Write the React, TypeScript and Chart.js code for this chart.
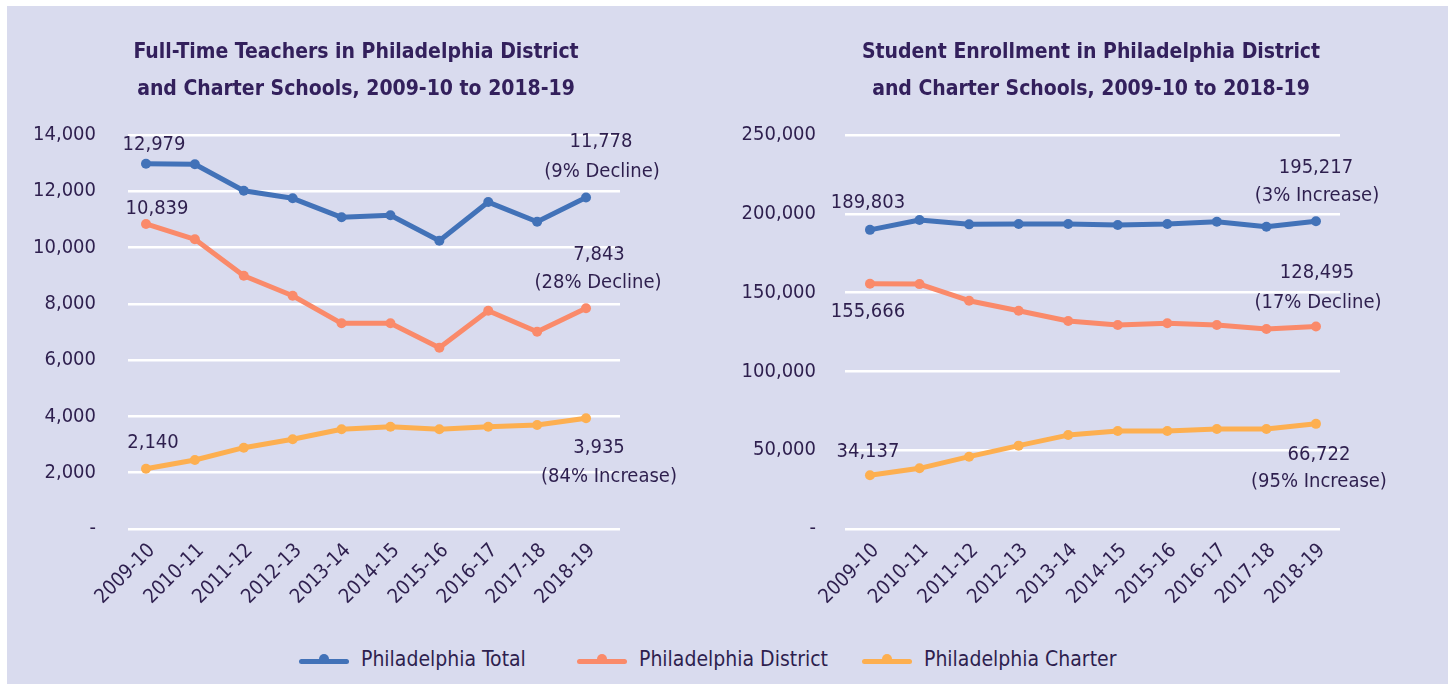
import React, { useEffect, useRef } from 'react';
import { Chart, registerables } from 'chart.js';

Chart.register(...registerables);

// ---------- data ----------
const CATEGORIES = ['2009-10', '2010-11', '2011-12', '2012-13', '2013-14', '2014-15', '2015-16', '2016-17', '2017-18', '2018-19'];

const TEACHERS_TOTAL = [12979, 12960, 12020, 11750, 11075, 11146, 10243, 11617, 10918, 11778];
const TEACHERS_DISTRICT = [10839, 10293, 9000, 8289, 7309, 7309, 6442, 7756, 7010, 7843];
const TEACHERS_CHARTER = [2140, 2452, 2889, 3187, 3542, 3635, 3542, 3635, 3695, 3935];

const ENROLL_TOTAL = [189803, 196100, 193300, 193500, 193500, 192900, 193500, 195000, 191800, 195217];
const ENROLL_DISTRICT = [155666, 155400, 144860, 138500, 132000, 129400, 130500, 129400, 126900, 128495];
const ENROLL_CHARTER = [34137, 38500, 45900, 52900, 59600, 62200, 62200, 63450, 63450, 66722];

const SERIES_NAMES = ['Philadelphia Total', 'Philadelphia District', 'Philadelphia Charter'];

const TEACHERS_TITLE = ['Full-Time Teachers in Philadelphia District', 'and Charter Schools, 2009-10 to 2018-19'];
const ENROLL_TITLE = ['Student Enrollment in Philadelphia District', 'and Charter Schools, 2009-10 to 2018-19'];

const TEACHERS_Y_MAX = 14000;
const TEACHERS_Y_STEP = 2000;
const ENROLL_Y_MAX = 250000;
const ENROLL_Y_STEP = 50000;

const TEACHERS_NOTES = [
  ['12,979'], ['10,839'], ['2,140'],
  ['11,778', '(9% Decline)'], ['7,843', '(28% Decline)'], ['3,935', '(84% Increase)'],
];
const ENROLL_NOTES = [
  ['189,803'], ['155,666'], ['34,137'],
  ['195,217', '(3% Increase)'], ['128,495', '(17% Decline)'], ['66,722', '(95% Increase)'],
];

// ---------- style ----------
const FONT = '"DejaVu Sans Condensed", "Liberation Sans Narrow", "Liberation Sans", sans-serif';
const TEXT = '#2e1f4e';
const TITLE_COLOR = '#33205c';
const BG = '#d9dbee';
const COLORS = ['#4272b8', '#fa8a6a', '#fdaf50'];

function fmt(n: number): string {
  if (n === 0) return '-';
  return String(Math.round(n)).replace(/\B(?=(\d{3})+(?!\d))/g, ',');
}

const notesPlugin = {
  id: 'notes',
  afterDatasetsDraw(chart: any, _args: any, opts: any) {
    const { ctx } = chart;
    ctx.save();
    ctx.font = `${opts.size}px ${FONT}`;
    ctx.fillStyle = TEXT;
    ctx.textAlign = 'center';
    ctx.textBaseline = 'middle';
    for (const a of opts.items) {
      const el = chart.getDatasetMeta(a.ds).data[a.idx];
      if (!el) continue;
      a.lines.forEach((ln: any) => ctx.fillText(ln.t, el.x + ln.dx, el.y + ln.dy));
    }
    ctx.restore();
  },
};

const headlinePlugin = {
  id: 'headline',
  afterDraw(chart: any, _args: any, opts: any) {
    const { ctx } = chart;
    ctx.save();
    ctx.font = `bold ${opts.size}px ${FONT}`;
    ctx.fillStyle = TITLE_COLOR;
    ctx.textAlign = 'center';
    ctx.textBaseline = 'middle';
    opts.lines.forEach((t: string, k: number) => ctx.fillText(t, opts.cx, opts.y + k * opts.gap));
    ctx.restore();
  },
};

function buildDatasets(series: number[][]) {
  return series.map((vals, si) => ({
    label: SERIES_NAMES[si],
    data: vals.map((v, i) => ({ x: i, y: v })),
    borderColor: COLORS[si],
    backgroundColor: COLORS[si],
    pointBackgroundColor: COLORS[si],
    pointBorderColor: COLORS[si],
    borderWidth: 5,
    pointRadius: 5,
    pointBorderWidth: 0,
    tension: 0,
    borderCapStyle: 'round',
    borderJoinStyle: 'round',
  }));
}

function makeConfig(p: any) {
  return {
    type: 'line',
    data: { datasets: buildDatasets(p.series) },
    plugins: [notesPlugin, headlinePlugin],
    options: {
      animation: false,
      responsive: false,
      events: [],
      layout: { padding: { top: 129, right: p.padRight, left: 0, bottom: 0 } },
      plugins: {
        legend: { display: false },
        tooltip: { enabled: false },
        title: { display: false },
        notes: { size: 20, items: p.notes },
        headline: { size: 21, lines: p.title, cx: p.titleX, y: 47, gap: 37 },
      },
      scales: {
        x: {
          type: 'linear',
          min: p.xMin,
          max: p.xMax,
          afterFit: (s: any) => { s.height = 97; },
          grid: { display: false },
          border: { display: false },
          ticks: {
            stepSize: 1,
            includeBounds: false,
            autoSkip: false,
            minRotation: 45,
            maxRotation: 45,
            padding: 2,
            labelOffset: 6,
            color: TEXT,
            font: { family: FONT, size: 20 },
            callback: (v: number) => CATEGORIES[v] ?? '',
          },
        },
        y: {
          min: 0,
          max: p.yMax,
          afterFit: (s: any) => { s.width = p.yWidth; },
          grid: { color: '#ffffff', lineWidth: 2.5, drawTicks: false },
          border: { display: false },
          ticks: {
            stepSize: p.yStep,
            padding: p.tickPad,
            color: TEXT,
            font: { family: FONT, size: 20 },
            callback: (v: number) => fmt(v),
          },
        },
      },
    },
  };
}

function L(t: string, dx: number, dy: number) { return { t, dx, dy }; }

const leftNotes = [
  { ds: 0, idx: 0, lines: [L(TEACHERS_NOTES[0][0], 8, -19)] },
  { ds: 1, idx: 0, lines: [L(TEACHERS_NOTES[1][0], 11, -15)] },
  { ds: 2, idx: 0, lines: [L(TEACHERS_NOTES[2][0], 7, -26)] },
  { ds: 0, idx: 9, lines: [L(TEACHERS_NOTES[3][0], 15, -56), L(TEACHERS_NOTES[3][1], 16, -26)] },
  { ds: 1, idx: 9, lines: [L(TEACHERS_NOTES[4][0], 13, -53), L(TEACHERS_NOTES[4][1], 12, -25)] },
  { ds: 2, idx: 9, lines: [L(TEACHERS_NOTES[5][0], 13, 30), L(TEACHERS_NOTES[5][1], 23, 59)] },
];
const rightNotes = [
  { ds: 0, idx: 0, lines: [L(ENROLL_NOTES[0][0], -2, -27)] },
  { ds: 1, idx: 0, lines: [L(ENROLL_NOTES[1][0], -2, 28)] },
  { ds: 2, idx: 0, lines: [L(ENROLL_NOTES[2][0], -2, -23)] },
  { ds: 0, idx: 9, lines: [L(ENROLL_NOTES[3][0], 0, -54), L(ENROLL_NOTES[3][1], 1, -26)] },
  { ds: 1, idx: 9, lines: [L(ENROLL_NOTES[4][0], 1, -54), L(ENROLL_NOTES[4][1], 2, -24)] },
  { ds: 2, idx: 9, lines: [L(ENROLL_NOTES[5][0], 3, 31), L(ENROLL_NOTES[5][1], 3, 58)] },
];

const LEGEND_X = [299, 577, 862];

function LineChart(props: { cfg: any; width: number; height: number }) {
  const ref = useRef<HTMLCanvasElement | null>(null);
  useEffect(() => {
    if (!ref.current) return;
    const chart = new Chart(ref.current, props.cfg);
    return () => chart.destroy();
  }, []);
  return <canvas ref={ref} width={props.width} height={props.height} style={{ width: props.width, height: props.height, display: 'block' }} />;
}

function LegendItem({ color, label, left }: { color: string; label: string; left: number }) {
  return (
    <div style={{ position: 'absolute', left, top: 0, height: 28, display: 'flex', alignItems: 'center' }}>
      <div style={{ position: 'relative', width: 50, height: 14, marginRight: 12 }}>
        <div style={{ position: 'absolute', left: 0, right: 0, top: 7, height: 5, borderRadius: 3, background: color }} />
        <div style={{ position: 'absolute', left: 20, top: 2, width: 10, height: 10, borderRadius: 5, background: color }} />
      </div>
      <span style={{ fontFamily: FONT, fontSize: 21, color: TEXT, whiteSpace: 'nowrap' }}>{label}</span>
    </div>
  );
}

export default function App() {
  const leftCfg = makeConfig({
    series: [TEACHERS_TOTAL, TEACHERS_DISTRICT, TEACHERS_CHARTER],
    yMax: TEACHERS_Y_MAX, yStep: TEACHERS_Y_STEP,
    xMin: -0.368, xMax: 9.695,
    padRight: 80, yWidth: 121, tickPad: 32,
    title: TEACHERS_TITLE, titleX: 349,
    notes: leftNotes,
  });
  const rightCfg = makeConfig({
    series: [ENROLL_TOTAL, ENROLL_DISTRICT, ENROLL_CHARTER],
    yMax: ENROLL_Y_MAX, yStep: ENROLL_Y_STEP,
    xMin: -0.504, xMax: 9.485,
    padRight: 108, yWidth: 145, tickPad: 29,
    title: ENROLL_TITLE, titleX: 391,
    notes: rightNotes,
  });
  return (
    <div style={{ position: 'fixed', left: 0, top: 0, width: 1448, height: 684, background: '#ffffff', overflow: 'hidden' }}>
      <div style={{ position: 'absolute', left: 7, top: 6, right: 0, bottom: 0, background: BG }} />
      <div style={{ position: 'absolute', left: 7, top: 6 }}>
        <LineChart cfg={leftCfg} width={693} height={620} />
      </div>
      <div style={{ position: 'absolute', left: 700, top: 6 }}>
        <LineChart cfg={rightCfg} width={748} height={620} />
      </div>
      <div style={{ position: 'absolute', left: 0, top: 645, width: 1448, height: 28 }}>
        {SERIES_NAMES.map((n, i) => <LegendItem key={n} color={COLORS[i]} label={n} left={LEGEND_X[i]} />)}
      </div>
    </div>
  );
}
